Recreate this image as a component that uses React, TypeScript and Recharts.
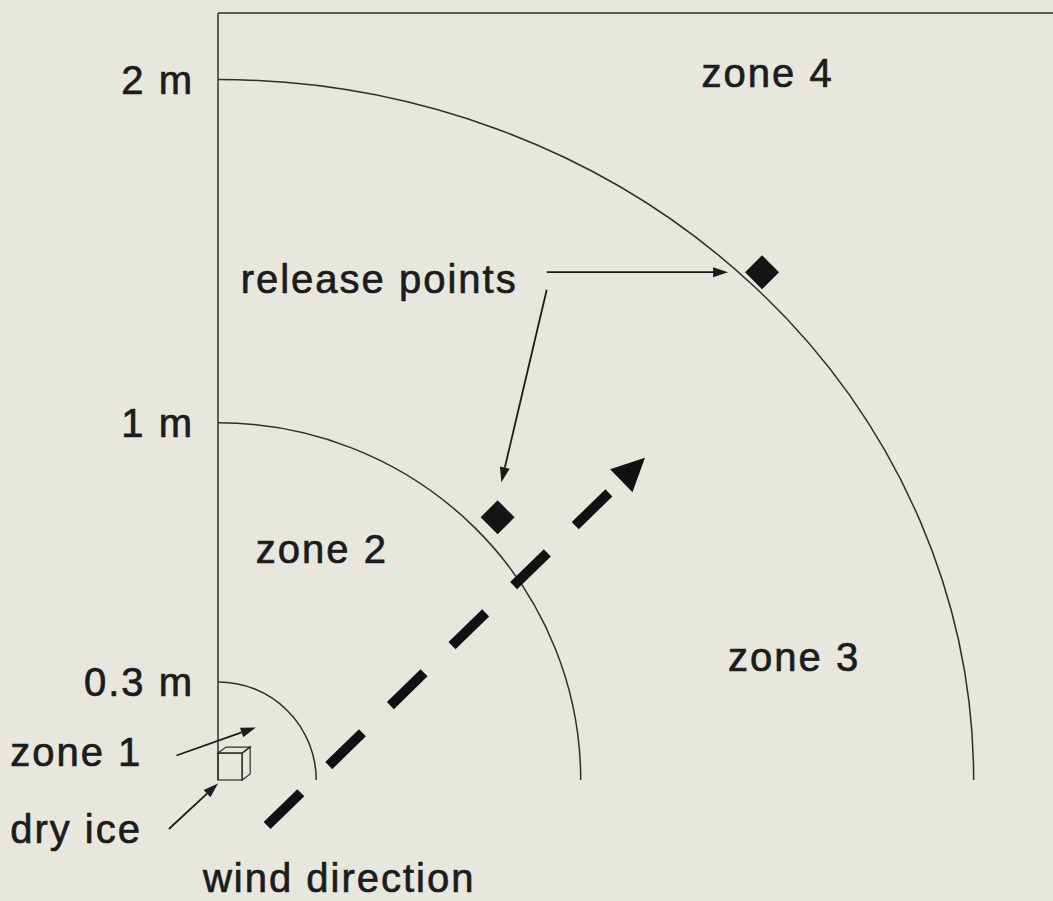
import {
  ReferenceArea,
  ReferenceDot,
  ReferenceLine,
  Scatter,
  ScatterChart,
  XAxis,
  YAxis,
} from 'recharts';

// zone boundaries (arc extents as drawn, not to scale)
const arcLabels = ['0.3 m', '1 m', '2 m'];
const arcRx = [0.26, 0.96, 2.0];
const arcRy = [0.28, 1.02, 2.0];

// release point markers
const releaseX = [0.74, 1.44];
const releaseY = [0.75, 1.45];

// free text annotations (left x, baseline y)
const noteText = ['zone 4', 'zone 2', 'zone 3', 'release points', 'zone 1', 'dry ice', 'wind direction'];
const noteX = [1.28, 0.1, 1.35, 0.06, -0.55, -0.55, -0.04];
const noteY = [1.98, 0.62, 0.31, 1.39, 0.04, -0.18, -0.32];

// thin pointer arrows
const pointerFrom = [
  [0.87, 1.45],
  [0.87, 1.4],
  [-0.11, 0.07],
  [-0.13, -0.14],
];
const pointerTo = [
  [1.35, 1.45],
  [0.75, 0.85],
  [0.1, 0.15],
  [0.0, -0.01],
];

// wind direction arrow
const windFrom = [0.13, -0.13];
const windTo = [1.13, 0.92];

// dry ice block
const iceW = 0.064;
const iceH = 0.077;

const INK = '#1c1c1c';
const LINE = '#2e2e2e';
const FONT = '"Liberation Sans", Arial, sans-serif';

const releaseData = releaseX.map((x, i) => ({ x, y: releaseY[i] }));

function arcShape(p: any) {
  const { x, y, width, height } = p;
  return (
    <path
      d={`M ${x} ${y} A ${width} ${height} 0 0 1 ${x + width} ${y + height}`}
      fill="none"
      stroke={LINE}
      strokeWidth={1.5}
    />
  );
}

function cubeShape(p: any) {
  const { x, y, width: w, height: h } = p;
  const dx = 8;
  const dy = 6;
  return (
    <g fill="none" stroke={LINE} strokeWidth={1.2}>
      <rect x={x} y={y} width={w} height={h} />
      <polygon points={`${x},${y} ${x + dx},${y - dy} ${x + w + dx},${y - dy} ${x + w},${y}`} />
      <polygon points={`${x + w},${y} ${x + w + dx},${y - dy} ${x + w + dx},${y + h - dy} ${x + w},${y + h}`} />
    </g>
  );
}

function pointerShape(p: any) {
  const { x1, y1, x2, y2 } = p;
  const len = Math.hypot(x2 - x1, y2 - y1);
  const ux = (x2 - x1) / len;
  const uy = (y2 - y1) / len;
  const hl = 15;
  const hw = 5;
  const bx = x2 - ux * hl;
  const by = y2 - uy * hl;
  return (
    <g>
      <line x1={x1} y1={y1} x2={bx} y2={by} stroke={INK} strokeWidth={1.8} />
      <polygon
        points={`${x2},${y2} ${bx - uy * hw},${by + ux * hw} ${bx + uy * hw},${by - ux * hw}`}
        fill={INK}
      />
    </g>
  );
}

function windShape(p: any) {
  const { x1, y1, x2, y2 } = p;
  const len = Math.hypot(x2 - x1, y2 - y1);
  const ux = (x2 - x1) / len;
  const uy = (y2 - y1) / len;
  const hl = 33;
  const hw = 16;
  const bx = x2 - ux * hl;
  const by = y2 - uy * hl;
  return (
    <g>
      <line
        x1={x1}
        y1={y1}
        x2={bx}
        y2={by}
        stroke="#111"
        strokeWidth={10}
        strokeDasharray="47 39"
      />
      <polygon
        points={`${x2},${y2} ${bx - uy * hw},${by + ux * hw} ${bx + uy * hw},${by - ux * hw}`}
        fill="#111"
      />
    </g>
  );
}

function diamondShape(p: any) {
  const { cx, cy } = p;
  const r = 17;
  return (
    <polygon points={`${cx},${cy - r} ${cx + r},${cy} ${cx},${cy + r} ${cx - r},${cy}`} fill="#141414" />
  );
}

function App() {
  return (
    <div
      style={{
        position: 'fixed',
        left: 0,
        top: 0,
        width: 1053,
        height: 901,
        overflow: 'hidden',
        background: '#e8e7de',
      }}
    >
      <ScatterChart
        width={1053}
        height={901}
        margin={{ top: 13, right: 0, bottom: 121, left: 158 }}
        style={{ fontFamily: FONT }}
      >
        <XAxis
          type="number"
          dataKey="x"
          domain={[0, 2.21]}
          allowDataOverflow
          tick={false}
          tickLine={false}
          height={0}
          axisLine={{ stroke: LINE, strokeWidth: 1.5 }}
        />
        <YAxis
          type="number"
          dataKey="y"
          domain={[0, 2.19]}
          allowDataOverflow
          ticks={arcRy}
          tickFormatter={(v: number) => arcLabels[arcRy.indexOf(v)]}
          tickLine={false}
          tickSize={0}
          tickMargin={24}
          width={60}
          axisLine={{ stroke: LINE, strokeWidth: 1.5 }}
          tick={{
            fill: INK,
            stroke: INK,
            strokeWidth: 0.7,
            fontSize: 40,
            fontFamily: FONT,
            letterSpacing: 2,
          }}
        />
        <ReferenceLine y={2.19} stroke={LINE} strokeWidth={1.5} ifOverflow="visible" />
        {arcRx.map((rx, i) => (
          <ReferenceArea
            key={arcLabels[i]}
            x1={0}
            x2={rx}
            y1={0}
            y2={arcRy[i]}
            shape={arcShape}
            ifOverflow="visible"
          />
        ))}
        <ReferenceArea x1={0} x2={iceW} y1={0} y2={iceH} shape={cubeShape} ifOverflow="visible" />
        <ReferenceLine
          segment={[
            { x: windFrom[0], y: windFrom[1] },
            { x: windTo[0], y: windTo[1] },
          ]}
          shape={windShape}
          ifOverflow="visible"
        />
        {pointerFrom.map((f, i) => (
          <ReferenceLine
            key={`ptr-${i}`}
            segment={[
              { x: f[0], y: f[1] },
              { x: pointerTo[i][0], y: pointerTo[i][1] },
            ]}
            shape={pointerShape}
            ifOverflow="visible"
          />
        ))}
        {noteText.map((t, i) => (
          <ReferenceDot
            key={t}
            x={noteX[i]}
            y={noteY[i]}
            r={0}
            ifOverflow="visible"
            shape={(p: any) => (
              <text
                x={p.cx}
                y={p.cy}
                fill={INK}
                stroke={INK}
                strokeWidth={0.7}
                fontSize={40}
                fontFamily={FONT}
                letterSpacing={2}
              >
                {t}
              </text>
            )}
          />
        ))}
        <Scatter data={releaseData} shape={diamondShape} isAnimationActive={false} />
      </ScatterChart>
    </div>
  );
}

export default App;
